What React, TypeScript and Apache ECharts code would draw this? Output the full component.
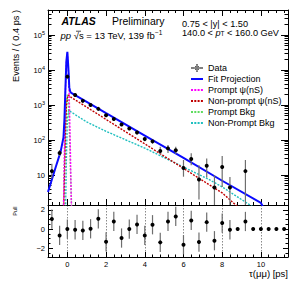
import React, { useEffect, useRef } from 'react';
import * as echarts from 'echarts';

const FONT = '"Liberation Sans", Arial, Helvetica, sans-serif';

// ---- data ----
const binCenters = [-0.8, -0.4, 0.0, 0.4, 0.8, 1.2, 1.6, 2.0, 2.4, 2.8, 3.2, 3.6, 4.0, 4.4, 4.8, 5.2, 5.6, 6.0, 6.4, 6.8, 7.2, 7.6, 8.0, 8.4, 8.8, 9.2, 9.6, 10.0, 10.4, 10.8, 11.2];
const dataCounts = [13, 43, 6500, 1950, 1320, 1000, 780, 510, 400, 280, 215, 165, 108, 92, 49, 58, 51, 16, 29, 7.5, 18.5, 4.4, 17, 4.4, null, 13, null, null, null, null, null];
const dataErrLow = [8, 35, 6300, 1880, 1260, 950, 735, 475, 370, 255, 193, 146, 93, 79, 40, 43, 40, 9, 19, 2, 8.6, 0.5, 4.6, 0.5, null, 0.5, null, null, null, null, null];
const dataErrHigh = [21, 52, 6700, 2020, 1380, 1050, 825, 545, 430, 305, 237, 184, 123, 105, 65, 72, 65, 27, 42, 19, 30, 10, 35, 8.9, null, 27, null, null, null, null, null];

const pullValues = [1.04, -0.66, 0.0, -0.07, -0.14, 0.03, 1.07, -1.32, 0.79, -0.93, 0.0, 0.48, -0.66, 0.45, -1.38, 0.79, 1.31, -1.63, 0.9, -1.35, 0.72, -1.21, 0.62, -0.07, 0.0, 0.79, 0.0, 0.0, 0.0, 0.0, 0.0];
const pullErrors = [1, 1, 1, 1, 1, 1, 1, 1, 1, 1, 1, 1, 1, 1, 1, 1, 1, 1, 1, 1, 1, 1, 1, 1, 0, 1, 0, 0, 0, 0, 0];

const fitX = [-1.0, -0.6, -0.35, -0.2, -0.15, -0.1, -0.05, 0.0, 0.05, 0.1, 0.15, 0.2, 2, 4, 6, 8, 10, 10.3];
const fitY = [3.3, 17, 46, 120, 400, 3000, 18000, 33000, 12000, 3200, 2400, 2240, 590, 135, 31, 6.9, 1.6, 0.8];

const promptPsiX = [-0.25, -0.2, -0.15, -0.1, -0.05, 0.0, 0.05, 0.1, 0.15, 0.2, 0.25];
const promptPsiY = [0.3, 1.0, 60, 2500, 17000, 30000, 11000, 1500, 80, 2, 0.3];

const nonPromptPsiX = [-0.2, -0.15, -0.1, -0.05, 0.0, 0.05, 0.2, 2, 4, 6, 8, 8.7, 9.0];
const nonPromptPsiY = [0.5, 8, 150, 900, 1600, 1950, 1660, 390, 78, 15.5, 3.1, 1.4, 1.0];

const promptBkgX = [-0.27, -0.2, -0.15, -0.1, -0.05, 0.0, 0.05, 0.1, 0.15, 0.22, 0.27];
const promptBkgY = [0.3, 1.2, 20, 250, 1200, 2000, 1200, 250, 20, 1.3, 0.3];

const nonPromptBkgX = [-0.1, -0.05, 0.0, 0.07, 0.2, 1, 2, 4, 6, 7.3, 8, 9, 9.6, 10];
const nonPromptBkgY = [0.5, 30, 400, 720, 630, 330, 178, 59, 17, 7.6, 4.6, 2.0, 1.23, 0.8];

// ---- tick lists ----
const xMajorTicks = [0, 2, 4, 6, 8, 10];
const xMinorTicks: number[] = [];
for (let k = -2; k <= 28; k++) if (k % 5 !== 0) xMinorTicks.push(Math.round(k * 4) / 10);
const yMajorTicks = [10, 100, 1000, 10000, 100000];
const yMinorTicks: number[] = [];
for (let e = 0; e <= 5; e++) for (let m = 2; m <= 9; m++) {
  const v = m * Math.pow(10, e);
  if (v > 1.4 && v < 5.2e5) yMinorTicks.push(v);
}
const pullMajorTicks = [-2, 0, 2];
const pullMinorTicks = [-2.5, -1.5, -1, -0.5, 0.5, 1, 1.5, 2.5];

const X_MIN = -1, X_MAX = 11.4;
const Y_MIN = 1.4, Y_MAX = 5.2e5;
const P_MIN = -2.9, P_MAX = 2.5;

const black = { color: '#000', width: 1 };

function xAx(gridIndex: number, position: string, ticks: number[], len: number, showLine: boolean, extra: any = {}) {
  return {
    type: 'value', gridIndex, position, min: X_MIN, max: X_MAX,
    axisLine: { show: showLine, onZero: false, lineStyle: black },
    axisTick: { show: true, inside: true, length: len, customValues: ticks, lineStyle: black },
    axisLabel: { show: false },
    splitLine: { show: false },
    ...extra,
  };
}
function yLog(position: string, ticks: number[], len: number, showLine: boolean, extra: any = {}) {
  return {
    type: 'log', logBase: 10, gridIndex: 0, position, min: Y_MIN, max: Y_MAX,
    axisLine: { show: showLine, onZero: false, lineStyle: black },
    axisTick: { show: true, inside: true, length: len, customValues: ticks, lineStyle: black },
    axisLabel: { show: false },
    splitLine: { show: false },
    ...extra,
  };
}
function yPull(position: string, ticks: number[], len: number, showLine: boolean, extra: any = {}) {
  return {
    type: 'value', gridIndex: 1, position, min: P_MIN, max: P_MAX,
    axisLine: { show: showLine, onZero: false, lineStyle: black },
    axisTick: { show: true, inside: true, length: len, customValues: ticks, lineStyle: black },
    axisLabel: { show: false },
    splitLine: { show: false },
    ...extra,
  };
}

const zip = (xs: number[], ys: number[]) => xs.map((x, i) => [x, ys[i]]);

function curve(name: string, xs: number[], ys: number[], color: string, width: number, dashed: boolean, z: number) {
  return {
    type: 'line', name, xAxisIndex: 0, yAxisIndex: 0, data: zip(xs, ys),
    showSymbol: false, symbol: 'none', clip: true, silent: true, z,
    lineStyle: { color, width, type: dashed ? [2, 1.3] : 'solid' },
    itemStyle: { color },
  };
}

const mainRows = binCenters
  .map((x, i) => (dataCounts[i] == null ? null : [x, dataCounts[i], dataErrLow[i], dataErrHigh[i]]))
  .filter((r) => r !== null);
const pullRows = binCenters.map((x, i) => [x, pullValues[i], pullErrors[i]]);

function clampY(v: number, cs: any) {
  return Math.max(cs.y, Math.min(cs.y + cs.height, v));
}

const dataIcon = 'path://M0,3.5H12V4.5H0Z M5.5,0H6.5V8H5.5Z M3.8,4a2.2,2.2 0 1,0 4.4,0a2.2,2.2 0 1,0 -4.4,0Z';
const lineOnly = { itemStyle: { opacity: 0 } };

const option: any = {
  animation: false,
  backgroundColor: '#fff',
  textStyle: { fontFamily: FONT },
  grid: [
    { left: 48, top: 10, width: 240, height: 195, outerBoundsMode: 'none' },
    { left: 48, top: 205, width: 240, height: 52, outerBoundsMode: 'none' },
  ],
  xAxis: [
    xAx(0, 'bottom', xMajorTicks, 6, true),
    xAx(0, 'bottom', xMinorTicks, 3, false),
    xAx(0, 'top', xMajorTicks, 6, true),
    xAx(0, 'top', xMinorTicks, 3, false),
    xAx(1, 'bottom', xMajorTicks, 5, true, {
      axisLabel: { show: true, customValues: xMajorTicks, fontSize: 7.5, color: '#000', margin: 3, fontFamily: FONT },
      splitLine: { show: true, lineStyle: { color: '#8a8a8a', width: 1, type: [1.5, 1.5] } },
    }),
    xAx(1, 'bottom', xMinorTicks, 2.5, false),
  ],
  yAxis: [
    yLog('left', yMajorTicks, 7, true, {
      axisLabel: {
        show: true, customValues: yMajorTicks, margin: 3,
        formatter: (v: number) => {
          const e = Math.round(Math.log10(v));
          return e === 1 ? '{b|10}' : `{b|10}{s|${e}}`;
        },
        rich: {
          b: { fontSize: 7.5, lineHeight: 11, color: '#000', fontFamily: FONT },
          s: { fontSize: 5.5, lineHeight: 6, verticalAlign: 'top', color: '#000', fontFamily: FONT },
        },
      },
    }),
    yLog('left', yMinorTicks, 3.5, false),
    yLog('right', yMajorTicks, 7, true),
    yLog('right', yMinorTicks, 3.5, false),
    yPull('left', pullMajorTicks, 5, true, {
      axisLabel: {
        show: true, customValues: pullMajorTicks, margin: 3, fontSize: 7.5, color: '#000', fontFamily: FONT,
        formatter: (v: number) => (v < 0 ? '\u2212' + Math.abs(v) : String(v)),
      },
    }),
    yPull('left', pullMinorTicks, 2.5, false),
    yPull('right', pullMajorTicks, 5, true),
    yPull('right', pullMinorTicks, 2.5, false),
  ],
  legend: {
    show: true, orient: 'vertical', left: 190, top: 63.5, padding: 0,
    itemWidth: 12, itemHeight: 8, itemGap: 2,
    selectedMode: false,
    textStyle: { fontSize: 9, lineHeight: 8, color: '#000', fontFamily: FONT },
    data: [
      { name: 'Data', icon: dataIcon },
      { name: 'Fit Projection', ...lineOnly },
      { name: 'Prompt \u03c8(nS)', ...lineOnly },
      { name: 'Non-prompt \u03c8(nS)', ...lineOnly },
      { name: 'Prompt Bkg', ...lineOnly },
      { name: 'Non-Prompt Bkg', ...lineOnly },
    ],
  },
  graphic: [
    {
      type: 'text', x: 16, y: 10, rotation: Math.PI / 2,
      style: { text: 'Events / ( 0.4 ps )', fontSize: 9.2, fontFamily: FONT, fill: '#000', align: 'right', verticalAlign: 'middle' },
    },
    {
      type: 'text', x: 15.3, y: 206.5, rotation: Math.PI / 2,
      style: { text: 'Pull', fontSize: 5.5, fontFamily: FONT, fill: '#000', align: 'right', verticalAlign: 'middle' },
    },
    {
      type: 'text', x: 288, y: 273.3,
      style: { text: '\u03c4(\u03bc\u03bc) [ps]', fontSize: 9.5, fontFamily: FONT, fill: '#000', align: 'right', verticalAlign: 'middle' },
    },
    {
      type: 'text', x: 61.5, y: 21,
      style: { text: 'ATLAS', fontSize: 10.5, fontWeight: 'bold', fontStyle: 'italic', fontFamily: FONT, fill: '#000', align: 'left', verticalAlign: 'middle' },
    },
    {
      type: 'text', x: 112, y: 21,
      style: { text: 'Preliminary', fontSize: 10.5, fontFamily: FONT, fill: '#000', align: 'left', verticalAlign: 'middle' },
    },
    {
      type: 'text', x: 60.5, y: 35.3,
      style: {
        text: '{i|pp} \u221as = 13 TeV, 139 fb{u|\u22121}',
        fontSize: 9.5, fontFamily: FONT, fill: '#000', align: 'left', verticalAlign: 'middle',
        rich: {
          i: { fontSize: 9.5, fontStyle: 'italic', fontFamily: FONT, lineHeight: 12 },
          u: { fontSize: 6.5, fontFamily: FONT, lineHeight: 7, verticalAlign: 'top' },
        },
      },
    },
    {
      type: 'line', shape: { x1: 76, y1: 31.2, x2: 81, y2: 31.2 }, style: { stroke: '#000', lineWidth: 0.7 },
    },
    {
      type: 'text', x: 182, y: 23.5,
      style: { text: '0.75 < |y| < 1.50', fontSize: 9.2, lineHeight: 8.5, fontFamily: FONT, fill: '#000', align: 'left', verticalAlign: 'middle' },
    },
    {
      type: 'text', x: 182, y: 32.5,
      style: {
        text: '140.0 < {i|p}{d|T} < 160.0 GeV',
        fontSize: 9.2, lineHeight: 8.5, fontFamily: FONT, fill: '#000', align: 'left', verticalAlign: 'middle',
        rich: {
          i: { fontSize: 9.2, fontStyle: 'italic', fontFamily: FONT, lineHeight: 8.5 },
          d: { fontSize: 6.5, fontFamily: FONT, lineHeight: 5, verticalAlign: 'bottom' },
        },
      },
    },
  ],
  series: [
    curve('Non-Prompt Bkg', nonPromptBkgX, nonPromptBkgY, '#1fbfbf', 1.4, true, 2),
    curve('Prompt Bkg', promptBkgX, promptBkgY, '#5fdc5f', 1.4, true, 2),
    curve('Non-prompt \u03c8(nS)', nonPromptPsiX, nonPromptPsiY, '#c00000', 1.4, true, 3),
    curve('Prompt \u03c8(nS)', promptPsiX, promptPsiY, '#ff00ff', 1.4, true, 3),
    curve('Fit Projection', fitX, fitY, '#0a0aff', 2, false, 4),
    {
      type: 'custom', name: 'Data', xAxisIndex: 0, yAxisIndex: 0, data: mainRows, z: 10, silent: true,
      itemStyle: { color: '#000' },
      encode: { x: 0, y: 1 },
      renderItem: (params: any, api: any) => {
        const cs = params.coordSys;
        const x = api.value(0), y = api.value(1), lo = api.value(2), hi = api.value(3);
        const p = api.coord([x, y]);
        const pl = api.coord([x, lo]);
        const ph = api.coord([x, hi]);
        return {
          type: 'group',
          children: [
            { type: 'line', shape: { x1: p[0], y1: clampY(pl[1], cs), x2: p[0], y2: clampY(ph[1], cs) }, style: { stroke: '#6e6e6e', lineWidth: 1.2 } },
            { type: 'circle', shape: { cx: p[0], cy: p[1], r: 2 }, style: { fill: '#000' } },
          ],
        };
      },
    },
    {
      type: 'custom', name: 'Pull', xAxisIndex: 4, yAxisIndex: 4, data: pullRows, z: 10, silent: true,
      itemStyle: { color: '#000' },
      encode: { x: 0, y: 1 },
      renderItem: (params: any, api: any) => {
        const x = api.value(0), y = api.value(1), e = api.value(2);
        const p = api.coord([x, y]);
        const children: any[] = [];
        if (e > 0) {
          const a = api.coord([x, y - e]);
          const b = api.coord([x, y + e]);
          children.push({ type: 'line', shape: { x1: p[0], y1: a[1], x2: p[0], y2: b[1] }, style: { stroke: '#6e6e6e', lineWidth: 1.2 } });
        }
        children.push({ type: 'circle', shape: { cx: p[0], cy: p[1], r: 2 }, style: { fill: '#000' } });
        return { type: 'group', children };
      },
    },
  ],
};

export default function App() {
  const ref = useRef<HTMLDivElement>(null);
  useEffect(() => {
    const chart = echarts.init(ref.current!, null, { renderer: 'svg' });
    chart.setOption(option);
    return () => chart.dispose();
  }, []);
  return <div ref={ref} style={{ position: 'fixed', left: 0, top: 0, width: 304, height: 294, background: '#fff' }} />;
}
